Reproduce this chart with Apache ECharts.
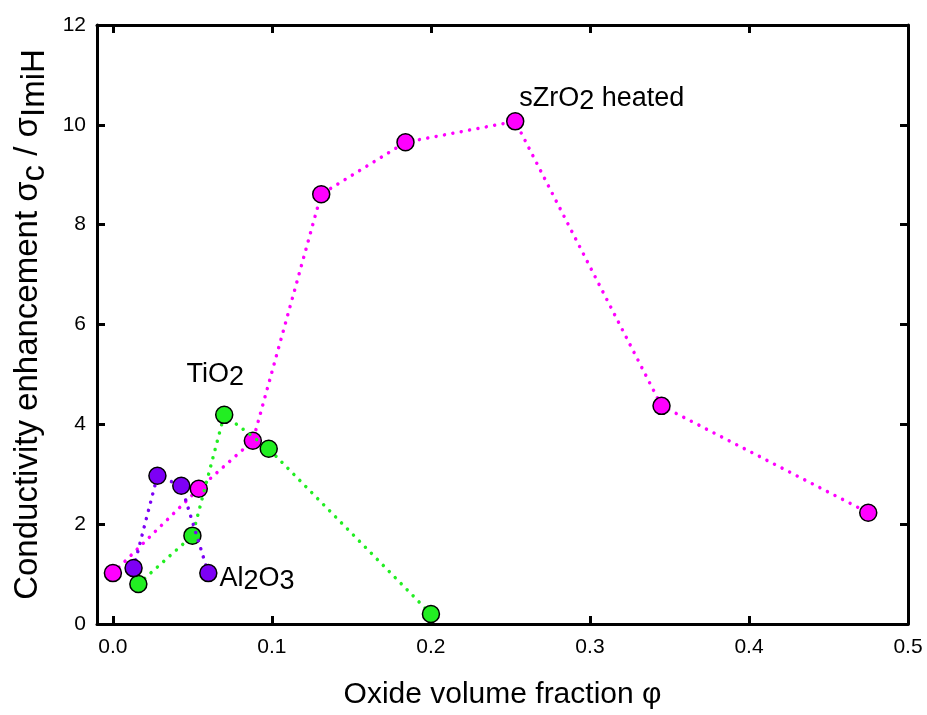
<!DOCTYPE html>
<html>
<head>
<meta charset="utf-8">
<script src="https://cdn.jsdelivr.net/npm/echarts@6/dist/echarts.min.js"></script>
<style>
  html, body { margin: 0; padding: 0; background: #fff; }
  #chart { width: 927px; height: 715px; }
</style>
</head>
<body>
<div id="chart"></div>
<script>
// Oxide volume fraction (x) and conductivity enhancement (y) per oxide
const zro2X = [0.0, 0.054, 0.088, 0.131, 0.184, 0.253, 0.345, 0.475];
const zro2Y = [1.02, 2.71, 3.67, 8.61, 9.65, 10.07, 4.37, 2.23];

const tio2X = [0.016, 0.050, 0.070, 0.098, 0.200];
const tio2Y = [0.80, 1.77, 4.19, 3.51, 0.20];

const al2o3X = [0.013, 0.028, 0.043, 0.060];
const al2o3Y = [1.12, 2.97, 2.77, 1.02];

const xTicks = [0.0, 0.1, 0.2, 0.3, 0.4, 0.5];

const FONT = '"Liberation Sans", Arial, sans-serif';

const zro2Color = '#ff00ff';
const tio2Color = '#22ee22';
const al2o3Color = '#7d00f5';

function pairs(xs, ys) {
  return xs.map((x, i) => [x, ys[i]]);
}

// rich-text styles for formulas with lowered subscripts
const labelRich = {
  b: { fontFamily: FONT, fontSize: 27, color: '#000', lineHeight: 30, verticalAlign: 'top' },
  s: { fontFamily: FONT, fontSize: 27, color: '#000', lineHeight: 30, verticalAlign: 'bottom', padding: [10, 0, 0, 0] }
};

function labeled(xs, ys, idx, text, pos, offset, align) {
  const d = pairs(xs, ys);
  d[idx] = {
    value: d[idx],
    label: {
      show: true,
      formatter: text,
      position: pos,
      offset: offset,
      align: align,
      rich: labelRich
    }
  };
  return d;
}

const dotted = (color) => ({
  color: color,
  width: 3.5,
  type: [0.01, 8.5],
  cap: 'round'
});

function series(name, data, color, z) {
  return {
    name: name,
    type: 'line',
    data: data,
    z: z,
    symbol: 'circle',
    symbolSize: 17,
    itemStyle: { color: color, borderColor: '#000', borderWidth: 1.5 },
    lineStyle: dotted(color),
    emphasis: { disabled: true },
    animation: false
  };
}

const axisLineStyle = { color: '#000', width: 3 };
const tickStyle = { color: '#000', width: 3 };

const chart = echarts.init(document.getElementById('chart'), null, { renderer: 'canvas' });

chart.setOption({
  backgroundColor: '#fff',
  grid: { left: 97, right: 19, top: 25, bottom: 88, containLabel: false },
  xAxis: [
    {
      type: 'value',
      min: -0.01,
      max: 0.5,
      position: 'bottom',
      name: 'Oxide volume fraction φ',
      nameLocation: 'middle',
      nameGap: 56,
      nameTextStyle: { fontFamily: FONT, fontSize: 30, color: '#000' },
      axisLine: { show: true, onZero: false, lineStyle: axisLineStyle },
      axisTick: { show: true, inside: true, length: 8, lineStyle: tickStyle, customValues: xTicks },
      axisLabel: {
        show: true, margin: 13, fontFamily: FONT, fontSize: 21, color: '#000',
        customValues: xTicks,
        formatter: (v) => v.toFixed(1)
      },
      splitLine: { show: false }
    },
    {
      type: 'value',
      min: -0.01,
      max: 0.5,
      position: 'top',
      axisLine: { show: true, onZero: false, lineStyle: axisLineStyle },
      axisTick: { show: true, inside: true, length: 8, lineStyle: tickStyle, customValues: xTicks },
      axisLabel: { show: false },
      splitLine: { show: false }
    }
  ],
  yAxis: [
    {
      type: 'value',
      min: 0,
      max: 12,
      interval: 2,
      position: 'left',
      name: 'Conductivity enhancement σ{s|c} / σ{s|ImiH}',
      nameLocation: 'middle',
      nameGap: 52,
      nameTextStyle: {
        fontFamily: FONT, fontSize: 33, color: '#000',
        rich: {
          s: { fontFamily: FONT, fontSize: 33, color: '#000', padding: [0, 0, -14, 0] }
        }
      },
      axisLine: { show: true, onZero: false, lineStyle: axisLineStyle },
      axisTick: { show: true, inside: true, length: 8, lineStyle: tickStyle },
      axisLabel: { show: true, margin: 11, fontFamily: FONT, fontSize: 21, color: '#000' },
      splitLine: { show: false }
    },
    {
      type: 'value',
      min: 0,
      max: 12,
      interval: 2,
      position: 'right',
      axisLine: { show: true, onZero: false, lineStyle: axisLineStyle },
      axisTick: { show: true, inside: true, length: 8, lineStyle: tickStyle },
      axisLabel: { show: false },
      splitLine: { show: false }
    }
  ],
  series: [
    series('sZrO2 heated',
      labeled(zro2X, zro2Y, 5, '{b|sZrO}{s|2}{b| heated}', 'top', [4, 8], 'left'),
      zro2Color, 3),
    series('TiO2',
      labeled(tio2X, tio2Y, 2, '{b|TiO}{s|2}', 'top', [-9, -10], 'center'),
      tio2Color, 4),
    series('Al2O3',
      labeled(al2o3X, al2o3Y, 3, '{b|Al}{s|2}{b|O}{s|3}', 'right', [-3, 7], 'left'),
      al2o3Color, 5)
  ]
});
</script>
</body>
</html>
